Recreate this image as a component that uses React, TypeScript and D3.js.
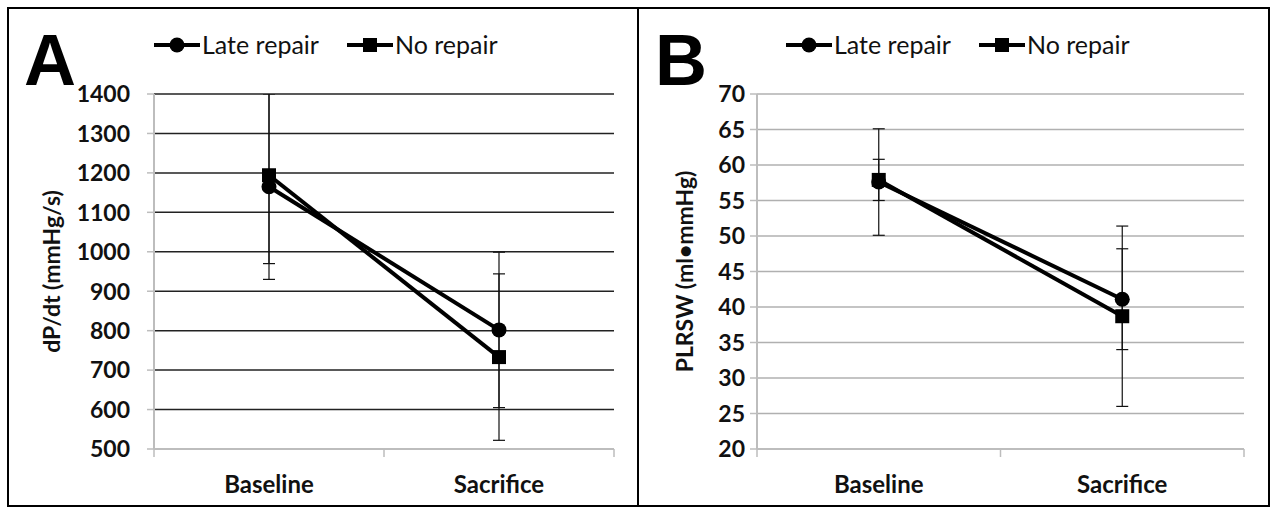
import * as d3 from 'd3';

// values (mean and SD)
const categories = ['Baseline', 'Sacrifice'];
const seriesNames = ['Late repair', 'No repair'];

const dpdtLate = [1165, 802];
const dpdtLateSd = [235, 197];
const dpdtNone = [1194, 733];
const dpdtNoneSd = [224, 211];
const dpdtTicks = [500, 600, 700, 800, 900, 1000, 1100, 1200, 1300, 1400];

const plrswLate = [57.6, 41.1];
const plrswLateSd = [7.5, 7.1];
const plrswNone = [57.9, 38.7];
const plrswNoneSd = [2.9, 12.7];
const plrswTicks = [20, 25, 30, 35, 40, 45, 50, 55, 60, 65, 70];

const FONT = 'Lato, "Open Sans", sans-serif';

type PanelProps = {
  id: string;
  letter: string;
  letterX: number;
  left: number;
  right: number;
  labelRight: number;
  titleX: number;
  domain: [number, number];
  ticks: number[];
  title: string;
  late: number[];
  lateSd: number[];
  none: number[];
  noneSd: number[];
  gridColor: string;
  legendX: number;
};

function Panel(p: PanelProps) {
  const top = 94;
  const bottom = 449;
  const y = d3.scaleLinear().domain(p.domain).range([bottom, top]);
  const x = d3.scalePoint().domain(categories).range([p.left, p.right]).padding(0.5);
  const band = d3.scaleBand().domain(categories).range([p.left, p.right]);
  const line = d3
    .line<number>()
    .x((_, i) => x(categories[i])!)
    .y((d) => y(d));

  const series = [
    { name: seriesNames[0], vals: p.late, sd: p.lateSd, shape: 'circle' },
    { name: seriesNames[1], vals: p.none, sd: p.noneSd, shape: 'square' },
  ];

  const marker = (shape: string, cx: number, cy: number, k: string) =>
    shape === 'circle' ? (
      <circle key={k} cx={cx} cy={cy} r={7.5} fill="#000" />
    ) : (
      <rect key={k} x={cx - 7} y={cy - 7} width={14} height={14} fill="#000" />
    );

  const xTicks = [...categories.map((c) => band(c)!), p.right];

  return (
    <g>
      <defs>
        <clipPath id={`clip-${p.id}`}>
          <rect x={p.left - 10} y={top} width={p.right - p.left + 20} height={bottom - top + 10} />
        </clipPath>
      </defs>
      {/* panel letter */}
      <text x={p.letterX} y={85} fontFamily="'Liberation Sans', Arial, sans-serif" fontWeight={700} fontSize={72}>
        {p.letter}
      </text>

      {/* gridlines */}
      {p.ticks.slice(1).map((t) => (
        <line key={`g${t}`} x1={p.left} x2={p.right} y1={y(t)} y2={y(t)} stroke={p.gridColor} strokeWidth={1.5} />
      ))}
      {/* y axis */}
      <line x1={p.left} x2={p.left} y1={top} y2={bottom} stroke="#bdbdbd" strokeWidth={2} />
      {p.ticks.map((t) => (
        <g key={`t${t}`}>
          <line x1={p.left - 7} x2={p.left} y1={y(t)} y2={y(t)} stroke="#bdbdbd" strokeWidth={1.5} />
          <text
            x={p.labelRight}
            y={y(t)}
            dy="0.36em"
            textAnchor="end"
            fontFamily={FONT}
            fontWeight={700}
            fontSize={23}
            fill="#111"
          >
            {t}
          </text>
        </g>
      ))}
      {/* x axis */}
      <line x1={p.left} x2={p.right} y1={bottom} y2={bottom} stroke="#bdbdbd" strokeWidth={2} />
      {xTicks.map((tx, i) => (
        <line key={`xt${i}`} x1={tx} x2={tx} y1={bottom} y2={bottom + 8} stroke="#bdbdbd" strokeWidth={1.5} />
      ))}
      {categories.map((c) => (
        <text
          key={c}
          x={x(c)}
          y={493}
          textAnchor="middle"
          fontFamily={FONT}
          fontWeight={700}
          fontSize={24}
          fill="#111"
        >
          {c}
        </text>
      ))}
      {/* axis title */}
      <text
        transform={`translate(${p.titleX},${(top + bottom) / 2}) rotate(-90)`}
        textAnchor="middle"
        fontFamily={FONT}
        fontWeight={700}
        fontSize={23}
        fill="#111"
      >
        {p.title}
      </text>

      {/* error bars */}
      <g clipPath={`url(#clip-${p.id})`}>
        {series.map((s) =>
          s.vals.map((v, i) => {
            const cx = x(categories[i])!;
            const hi = y(v + s.sd[i]);
            const lo = y(v - s.sd[i]);
            return (
              <g key={`${s.name}-${i}`} stroke="#111" strokeWidth={1.2}>
                <line x1={cx} x2={cx} y1={hi} y2={lo} />
                <line x1={cx - 6} x2={cx + 6} y1={hi} y2={hi} />
                <line x1={cx - 6} x2={cx + 6} y1={lo} y2={lo} />
              </g>
            );
          })
        )}
      </g>

      {/* series lines and markers */}
      {series.map((s) => (
        <path key={`l-${s.name}`} d={line(s.vals)!} fill="none" stroke="#000" strokeWidth={4} />
      ))}
      {series.map((s) => s.vals.map((v, i) => marker(s.shape, x(categories[i])!, y(v), `m-${s.name}-${i}`)))}

      {/* legend */}
      {series.map((s, i) => {
        const lx = p.legendX + i * 193;
        return (
          <g key={`lg-${s.name}`}>
            <line x1={lx} x2={lx + 46} y1={45} y2={45} stroke="#000" strokeWidth={4} />
            {marker(s.shape, lx + 23, 45, `lm-${s.name}`)}
            <text x={lx + 48} y={45} dy="0.36em" fontFamily={FONT} fontSize={25} fill="#111">
              {s.name}
            </text>
          </g>
        );
      })}
    </g>
  );
}

export default function App() {
  return (
    <svg
      width={1272}
      height={510}
      style={{ position: 'absolute', left: 0, top: 0, background: '#fff' }}
    >
      <rect x={0} y={0} width={1272} height={510} fill="#fff" />
      <rect x={8} y={8} width={1261} height={498} fill="none" stroke="#000" strokeWidth={2} />
      <line x1={638} x2={638} y1={8} y2={506} stroke="#000" strokeWidth={2} />
      <Panel
        id="a"
        letter="A"
        letterX={24}
        left={154}
        right={614}
        labelRight={130}
        titleX={60}
        domain={[500, 1400]}
        ticks={dpdtTicks}
        title="dP/dt (mmHg/s)"
        late={dpdtLate}
        lateSd={dpdtLateSd}
        none={dpdtNone}
        noneSd={dpdtNoneSd}
        gridColor="#222"
        legendX={154}
      />
      <Panel
        id="b"
        letter="B"
        letterX={655}
        left={757}
        right={1244}
        labelRight={745}
        titleX={693}
        domain={[20, 70]}
        ticks={plrswTicks}
        title="PLRSW (ml•mmHg)"
        late={plrswLate}
        lateSd={plrswLateSd}
        none={plrswNone}
        noneSd={plrswNoneSd}
        gridColor="#b0b0b0"
        legendX={786}
      />
    </svg>
  );
}
